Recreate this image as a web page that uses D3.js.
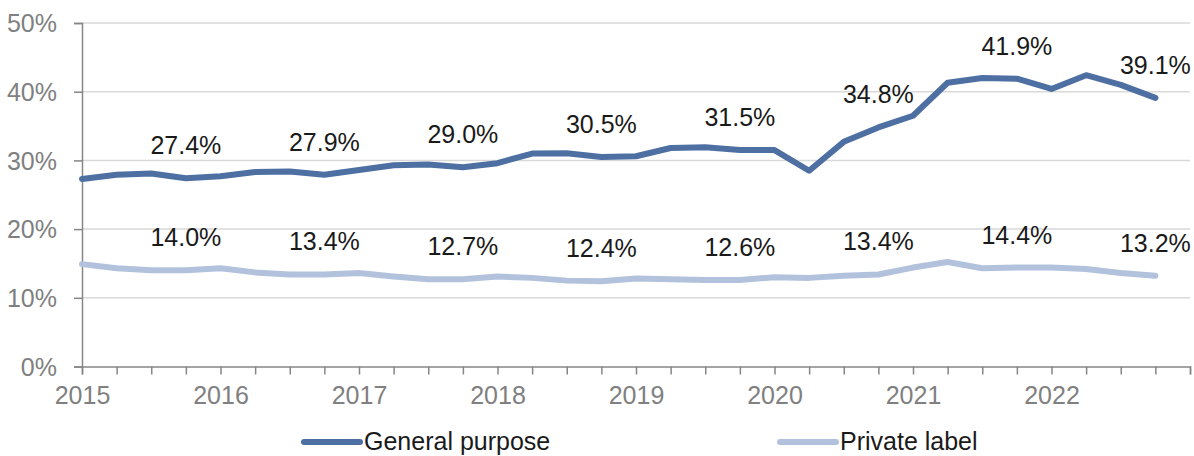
<!DOCTYPE html>
<html>
<head>
<meta charset="utf-8">
<script src="https://cdn.jsdelivr.net/npm/d3@7"></script>
<style>
  html, body { margin: 0; padding: 0; background: #fff; }
  svg { display: block; font-family: "Liberation Sans", Arial, sans-serif; }
</style>
</head>
<body>
<svg id="chart" width="1194" height="456"></svg>
<script>
const quarters = d3.range(32).map(i => `${2015 + Math.floor(i / 4)}Q${(i % 4) + 1}`);
const yearLabels = ["2015", "2016", "2017", "2018", "2019", "2020", "2021", "2022"];
const yTicks = [0, 10, 20, 30, 40, 50];
const generalPurpose = [27.3, 27.9, 28.1, 27.4, 27.7, 28.3, 28.4, 27.9, 28.6, 29.3,
  29.4, 29.0, 29.6, 31.0, 31.05, 30.5, 30.6, 31.8, 31.9, 31.5,
  31.5, 28.5, 32.7, 34.8, 36.5, 41.3, 42.0, 41.9, 40.4, 42.4, 41.0, 39.1];
const privateLabel = [14.9, 14.3, 14.0, 14.0, 14.3, 13.7, 13.4, 13.4, 13.6, 13.1,
  12.7, 12.7, 13.1, 12.9, 12.5, 12.4, 12.8, 12.7, 12.6, 12.6,
  13.0, 12.9, 13.2, 13.4, 14.4, 15.2, 14.3, 14.4, 14.4, 14.2, 13.6, 13.2];
const labelIdx = [3, 7, 11, 15, 19, 23, 27, 31];
const seriesNames = ["General purpose", "Private label"];

const colors = ["#4e6fa2", "#b3c2dc"];
const series = [generalPurpose, privateLabel];

const svg = d3.select("#chart");
const mLeft = 82, mRight = 1190, mTop = 23, mBottom = 366.5;

const x = d3.scaleLinear().domain([0, 32]).range([mLeft, mRight]);
const y = d3.scaleLinear().domain([0, 50]).range([mBottom, mTop]);

// gridlines
svg.append("g")
  .selectAll("line")
  .data(yTicks.filter(d => d > 0))
  .join("line")
  .attr("x1", mLeft).attr("x2", mRight)
  .attr("y1", d => y(d)).attr("y2", d => y(d))
  .attr("stroke", "#d9d9d9").attr("stroke-width", 1.5);

// y axis
const yAxis = d3.axisLeft(y).tickValues(yTicks).tickFormat(d => d + "%").tickSize(8).tickPadding(17);
const gy = svg.append("g").attr("transform", `translate(${mLeft},0)`).call(yAxis);
gy.select(".domain").attr("stroke", "#868686").attr("stroke-width", 1.5);
gy.selectAll(".tick line").attr("stroke", "#868686").attr("stroke-width", 1.5);
gy.selectAll(".tick text").attr("fill", "#808080").style("font-size", "25px")
  .style("font-family", "Liberation Sans, Arial, sans-serif").attr("dy", "0.35em");

// x axis
const xAxis = d3.axisBottom(x).tickValues(d3.range(33)).tickSize(8)
  .tickFormat(d => (d % 4 === 0 && d / 4 < yearLabels.length) ? yearLabels[d / 4] : "").tickPadding(12);
const gx = svg.append("g").attr("transform", `translate(0,${mBottom})`).call(xAxis);
gx.select(".domain").attr("stroke", "#868686").attr("stroke-width", 1.5);
gx.selectAll(".tick line").attr("stroke", "#868686").attr("stroke-width", 1.5);
gx.selectAll(".tick text").attr("fill", "#808080").style("font-size", "25px")
  .style("font-family", "Liberation Sans, Arial, sans-serif");

// lines
const line = d3.line().x((d, i) => x(i)).y(d => y(d));
series.forEach((s, k) => {
  svg.append("path")
    .datum(s)
    .attr("fill", "none")
    .attr("stroke", colors[k])
    .attr("stroke-width", 6)
    .attr("stroke-linejoin", "round")
    .attr("stroke-linecap", "round")
    .attr("d", line);
});

// data labels
series.forEach((s, k) => {
  svg.append("g")
    .selectAll("text")
    .data(labelIdx)
    .join("text")
    .attr("x", i => x(i))
    .attr("y", i => y(s[i]) - 24)
    .attr("text-anchor", "middle")
    .attr("fill", "#1a1a1a")
    .style("font-size", "25px")
    .text(i => s[i].toFixed(1) + "%");
});

// legend
const legendX = [304, 780];
seriesNames.forEach((name, k) => {
  const g = svg.append("g").attr("transform", `translate(${legendX[k]},442)`);
  g.append("line").attr("x1", 0).attr("x2", 56).attr("y1", 0).attr("y2", 0)
    .attr("stroke", colors[k]).attr("stroke-width", 6).attr("stroke-linecap", "round");
  g.append("text").attr("x", 60).attr("y", 0).attr("dy", "0.33em")
    .attr("fill", "#1a1a1a").style("font-size", "25px").text(name);
});
</script>
</body>
</html>
